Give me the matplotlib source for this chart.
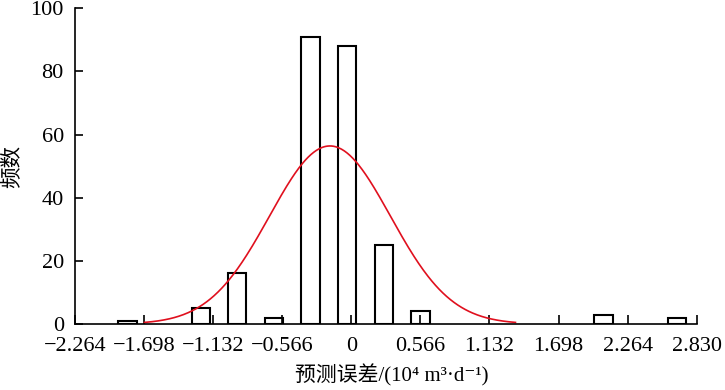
import numpy as np
import matplotlib
matplotlib.use("Agg")
import matplotlib.pyplot as plt

plt.rcParams['font.family'] = ['Liberation Serif', 'Noto Sans CJK SC', 'DejaVu Sans']

# Histogram data (bin centres in 10^4 m^3/d, counts)
bin_centers = [-1.834, -1.234, -0.934, -0.634, -0.334, -0.034, 0.266, 0.566, 2.066, 2.666]
counts = [1, 5, 16, 2, 91, 88, 25, 4, 3, 2]
bar_width = 0.15

# Fitted normal curve parameters
fit_mu = -0.175
fit_sigma = 0.495
fit_peak = 56.4
fit_half_range = 1.52

xticks = [-2.264, -1.698, -1.132, -0.566, 0, 0.566, 1.132, 1.698, 2.264, 2.830]
xtick_labels = ['−2.264', '−1.698', '−1.132', '−0.566', '0', '0.566', '1.132', '1.698', '2.264', '2.830']
yticks = [0, 20, 40, 60, 80, 100]

fig = plt.figure(figsize=(7.25, 3.9), dpi=100)
ax = fig.add_axes([0.1034, 0.1692, 0.961 - 0.1034, 0.9787 - 0.1692])

ax.bar(bin_centers, counts, width=bar_width, facecolor='white', edgecolor='black',
       linewidth=1.5, zorder=1)

xc = np.linspace(fit_mu - fit_half_range, fit_mu + fit_half_range, 400)
yc = fit_peak * np.exp(-(xc - fit_mu) ** 2 / (2 * fit_sigma ** 2))
ax.plot(xc, yc, color='#e0101e', linewidth=1.2, zorder=2)

ax.set_xlim(-2.264, 2.830)
ax.set_ylim(0, 100)
ax.set_xticks(xticks)
ax.set_xticklabels(xtick_labels)
ax.set_yticks(yticks)

for s in ['top', 'right']:
    ax.spines[s].set_visible(False)
for s in ['left', 'bottom']:
    ax.spines[s].set_linewidth(1.2)

ax.tick_params(axis='x', direction='in', length=6.5, width=1.2, pad=9, labelsize=16)
ax.tick_params(axis='y', direction='in', length=6.0, width=1.2, pad=8, labelsize=16)

ax.set_xlabel('预测误差/(10⁴ m³·d⁻¹)', fontsize=15)
ax.xaxis.set_label_coords(0.51, -0.161)
ax.xaxis.label.set_verticalalignment('center')

ax.set_ylabel('频数', fontsize=15.5)
ax.yaxis.set_label_coords(-0.101, 0.5)
ax.yaxis.label.set_verticalalignment('center')

fig.savefig('out.png', dpi=100)
